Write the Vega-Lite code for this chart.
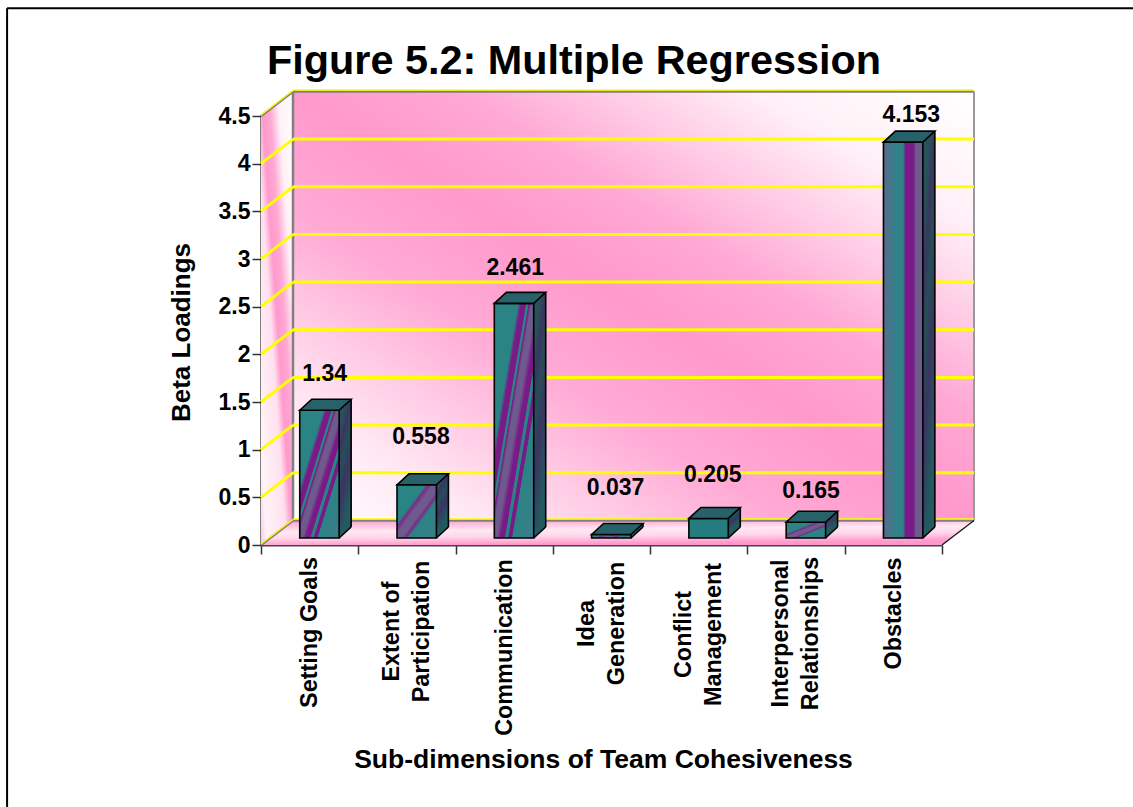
{"$schema":"https://vega.github.io/schema/vega-lite/v6.json","width":681,"height":429,"autosize":{"type":"none"},"padding":{"left":261,"top":116,"right":191,"bottom":262},"background":"white","view":{"stroke":null},
"title":{"text":"Figure 5.2: Multiple Regression","anchor":"start","frame":"group","dx":6,"offset":-75,"font":"Liberation Sans","fontWeight":"bold","fontSize":41.4,"color":"#000"},
"datasets":{"bars":[{"category":"Setting Goals","value":1.34},{"category":"Extent of Participation","value":0.558},{"category":"Communication","value":2.461},{"category":"Idea Generation","value":0.037},{"category":"Conflict Management","value":0.205},{"category":"Interpersonal Relationships","value":0.165},{"category":"Obstacles","value":4.153}],
"ticks":[{"v":0.5},{"v":1},{"v":1.5},{"v":2},{"v":2.5},{"v":3},{"v":3.5},{"v":4}],"edges":[{"v":0},{"v":4.5}],
"floor":[{"x":0,"a":0,"b":0},{"x":0.329,"a":0,"b":0.258},{"x":7,"a":0,"b":0.258},{"x":7.329,"a":0.258,"b":0.258}],
"side":[{"x":0,"a":0,"b":4.5},{"x":0.329,"a":0.258,"b":4.758}],
"one":[{"n":1}]},
"resolve":{"scale":{"x":"independent"},"axis":{"x":"independent","y":"independent"}},
"layer":[
{"resolve":{"axis":{"x":"independent","y":"independent"}},"layer":[
{"data":{"name":"one"},"mark":{"type":"rect","xOffset":32,"x2Offset":32,"yOffset":-24.6,"y2Offset":-24.6,"color":{"gradient":"linear","x1":0,"y1":1,"x2":1,"y2":0,"stops":[{"offset":0,"color":"#ffffff"},{"offset":0.14,"color":"#ffe8f3"},{"offset":0.36,"color":"#ffaad5"},{"offset":0.5,"color":"#ff99cc"},{"offset":0.62,"color":"#ffa8d4"},{"offset":0.84,"color":"#fff0f7"},{"offset":1,"color":"#ffffff"}]}},
"encoding":{"x":{"datum":0,"type":"quantitative","scale":{"domain":[0,7],"nice":false,"zero":false},"axis":null},"x2":{"datum":7},"y":{"datum":0,"type":"quantitative","scale":{"domain":[0,4.5],"nice":false},"axis":null},"y2":{"datum":4.5}}},
{"data":{"name":"side"},"mark":{"type":"area","color":{"gradient":"linear","x1":0,"y1":1,"x2":1,"y2":0,"stops":[{"offset":0,"color":"#ffc4e2"},{"offset":0.1,"color":"#fff4f9"},{"offset":0.4,"color":"#ffe0ef"},{"offset":0.5,"color":"#ff99cc"},{"offset":0.62,"color":"#ffa8d4"},{"offset":0.76,"color":"#fff0f7"},{"offset":1,"color":"#ffffff"}]}},"encoding":{"x":{"field":"x","type":"quantitative","axis":null},"y":{"field":"a","type":"quantitative","axis":null},"y2":{"field":"b"}}},
{"data":{"name":"floor"},"mark":{"type":"area","color":{"gradient":"linear","x1":0,"y1":0,"x2":0.25,"y2":1,"stops":[{"offset":0,"color":"#ff99cc"},{"offset":0.45,"color":"#ffe8f3"},{"offset":0.7,"color":"#ffd6ea"},{"offset":1,"color":"#ff99cc"}]}},"encoding":{"x":{"field":"x","type":"quantitative","axis":null},"y":{"field":"a","type":"quantitative","axis":null},"y2":{"field":"b"}}},
{"data":{"name":"edges"},"mark":{"type":"rule","color":"#808080","strokeWidth":2.5,"yOffset":-24.6,"xOffset":32,"x2Offset":32},"encoding":{"x":{"datum":0,"type":"quantitative","axis":null},"x2":{"datum":7},"y":{"field":"v","type":"quantitative","axis":null}}},
{"data":{"name":"edges"},"mark":{"type":"rule","color":"#808080","strokeWidth":2.5,"yOffset":-24.6,"y2Offset":-24.6,"xOffset":32},"transform":[{"filter":"datum.v==0"}],"encoding":{"x":{"datum":0,"type":"quantitative","axis":null},"y":{"field":"v","type":"quantitative","axis":null},"y2":{"datum":4.5}}},
{"data":{"name":"edges"},"mark":{"type":"rule","color":"#999999","strokeWidth":2,"yOffset":-24.6,"y2Offset":-24.6,"xOffset":32},"transform":[{"filter":"datum.v==0"}],"encoding":{"x":{"datum":7,"type":"quantitative","axis":null},"y":{"field":"v","type":"quantitative","axis":null},"y2":{"datum":4.5}}},
{"data":{"name":"ticks"},"mark":{"type":"rule","color":"#ffff00","strokeWidth":3,"yOffset":-24.6,"xOffset":32,"x2Offset":32},"encoding":{"x":{"datum":0,"type":"quantitative","axis":null},"x2":{"datum":7},"y":{"field":"v","type":"quantitative","axis":null}}},
{"data":{"name":"ticks"},"mark":{"type":"rule","color":"#ffff00","strokeWidth":3,"y2Offset":-24.6,"x2Offset":32},"encoding":{"x":{"datum":0,"type":"quantitative","axis":null},"x2":{"datum":0},"y":{"field":"v","type":"quantitative","axis":null},"y2":{"field":"v"}}},
{"data":{"name":"edges"},"mark":{"type":"rule","color":"#808080","strokeWidth":2.5,"y2Offset":-24.6,"x2Offset":32},"encoding":{"x":{"datum":0,"type":"quantitative","axis":null},"x2":{"datum":0},"y":{"field":"v","type":"quantitative","axis":null},"y2":{"field":"v"}}},
{"data":{"name":"edges"},"mark":{"type":"rule","color":"#ffff00","strokeWidth":1.2,"yOffset":-1,"y2Offset":-25.6,"x2Offset":32},"encoding":{"x":{"datum":0,"type":"quantitative","axis":null},"x2":{"datum":0},"y":{"field":"v","type":"quantitative","axis":null},"y2":{"field":"v"}}},
{"data":{"name":"edges"},"mark":{"type":"rule","color":"#ffff00","strokeWidth":1.5,"yOffset":-26,"xOffset":32,"x2Offset":32},"encoding":{"x":{"datum":0,"type":"quantitative","axis":null},"x2":{"datum":7},"y":{"field":"v","type":"quantitative","axis":null}}},
{"data":{"name":"edges"},"transform":[{"filter":"datum.v==0"}],"mark":{"type":"rule","color":"#111111","strokeWidth":1.2,"y2Offset":-24.6,"x2Offset":32},"encoding":{"x":{"datum":7,"type":"quantitative","axis":null},"x2":{"datum":7},"y":{"field":"v","type":"quantitative","axis":null},"y2":{"field":"v"}}},
{"data":{"name":"one"},"mark":{"type":"rule","color":"#000000","strokeWidth":2},"encoding":{"x":{"datum":-2.61,"type":"quantitative","axis":null},"x2":{"datum":9},"y":{"datum":5.63,"type":"quantitative","axis":null}}},
{"data":{"name":"one"},"mark":{"type":"rule","color":"#000000","strokeWidth":2},"encoding":{"x":{"datum":-2.61,"type":"quantitative","axis":null},"y":{"datum":5.63,"type":"quantitative","axis":null},"y2":{"datum":-3}}}
]},
{"data":{"name":"bars"},"resolve":{"axis":{"x":"independent","y":"independent"}},"layer":[
{"mark":{"type":"bar","width":12,"xOffset":35.5,"yOffset":-18,"y2Offset":-18,"color":{"gradient":"linear","x1":0,"y1":0,"x2":0.4,"y2":1,"stops":[{"offset":0,"color":"#225a60"},{"offset":0.22,"color":"#2a4f5a"},{"offset":0.35,"color":"#3a3560"},{"offset":0.5,"color":"#244f58"},{"offset":0.7,"color":"#3a3560"},{"offset":1,"color":"#225a60"}]}},"encoding":{"x":{"field":"category","type":"nominal","sort":null,"scale":{"domain":["Setting Goals","Extent of Participation","Communication","Idea Generation","Conflict Management","Interpersonal Relationships","Obstacles"],"paddingInner":0,"paddingOuter":0},"axis":{"title":"Sub-dimensions of Team Cohesiveness","titleFont":"Liberation Sans","titleFontWeight":"bold","titleFontSize":26.5,"titleColor":"#000","titleX":342,"titleY":214,"titleAlign":"center","titleBaseline":"middle","labelFont":"Liberation Sans","labelFontWeight":"bold","labelFontSize":23.4,"labelColor":"#000","labelAngle":-90,"labelAlign":"center","labelBaseline":"middle","labelLimit":400,"labelPadding":{"condition":[{"test":"datum.label=='Setting Goals'","value":78},{"test":"datum.label=='Extent of Participation'","value":77},{"test":"datum.label=='Communication'","value":93},{"test":"datum.label=='Idea Generation'","value":69},{"test":"datum.label=='Conflict Management'","value":80},{"test":"datum.label=='Interpersonal Relationships'","value":79}],"value":59},"labelOverlap":false,"labelLineHeight":30,"labelOffset":{"condition":{"test":"indexof(datum.label,' ')>0&&datum.label!='Setting Goals'","value":-15.5},"value":0},"tickBand":"extent","tickSize":9,"tickColor":"#333","tickWidth":1.5,"domainColor":"#444","domainWidth":2,"labelExpr":"datum.label=='Extent of Participation'?['Extent of','Participation']:datum.label=='Idea Generation'?['Idea','Generation']:datum.label=='Conflict Management'?['Conflict','Management']:datum.label=='Interpersonal Relationships'?['Interpersonal','Relationships']:datum.label"}},"y":{"field":"value","type":"quantitative","axis":{"values":[0,0.5,1,1.5,2,2.5,3,3.5,4,4.5],"format":"~g","title":"Beta Loadings","titleFont":"Liberation Sans","titleFontWeight":"bold","titleFontSize":26,"titleColor":"#000","titleX":-80,"titleY":216,"titleAngle":-90,"titleAlign":"center","titleBaseline":"middle","labelFont":"Liberation Sans","labelFontWeight":"bold","labelFontSize":23,"labelColor":"#000","labelPadding":2,"tickSize":9,"tickColor":"#333","tickWidth":1.5,"domainColor":"#000","domainWidth":2,"grid":false}}}},
{"mark":{"type":"point","filled":true,"size":4,"shape":"M19.7,-7 L31.7,-18 L19.7,-18 Z","color":"#225a60","opacity":1,"xOffset":9.8},"encoding":{"x":{"field":"category","type":"nominal","axis":null},"y":{"datum":0,"type":"quantitative","axis":null}}},
{"mark":{"type":"point","filled":false,"size":4,"shape":"M19.7,-7 L31.7,-18","color":"#000","strokeWidth":1.6,"opacity":1,"xOffset":9.8},"encoding":{"x":{"field":"category","type":"nominal","axis":null},"y":{"datum":0,"type":"quantitative","axis":null}}},
{"mark":{"type":"rule","color":"#000","strokeWidth":1.6,"xOffset":41.5,"yOffset":-18,"y2Offset":-18},"encoding":{"x":{"field":"category","type":"nominal","axis":null,"bandPosition":0.5},"y":{"field":"value","type":"quantitative","axis":null},"y2":{"datum":0}}},
{"transform":[{"filter":"datum.category=='Setting Goals'||datum.category=='Communication'"}],"mark":{"type":"bar","width":39.4,"xOffset":9.8,"yOffset":-7,"y2Offset":-7,"stroke":"#000","strokeWidth":1.6,"color":{"gradient":"linear","x1":0,"y1":0,"x2":1,"y2":1,"stops":[{"offset":0,"color":"#2a8484"},{"offset":0.3,"color":"#2a8484"},{"offset":0.34,"color":"#7a1a88"},{"offset":0.4,"color":"#7a1a88"},{"offset":0.41,"color":"#2a8484"},{"offset":0.43,"color":"#2a8484"},{"offset":0.44,"color":"#7a1a88"},{"offset":0.47,"color":"#6e5a8c"},{"offset":0.53,"color":"#6e5a8c"},{"offset":0.58,"color":"#7a1a88"},{"offset":0.63,"color":"#7a1a88"},{"offset":0.64,"color":"#2a8484"},{"offset":0.67,"color":"#2a8484"},{"offset":0.68,"color":"#7a1a88"},{"offset":0.72,"color":"#7a1a88"},{"offset":0.73,"color":"#2a8484"},{"offset":1,"color":"#3f7a8a"}]}},"encoding":{"x":{"field":"category","type":"nominal","axis":null},"y":{"field":"value","type":"quantitative","axis":null}}},
{"transform":[{"filter":"datum.category=='Extent of Participation'||datum.category=='Idea Generation'||datum.category=='Interpersonal Relationships'"}],"mark":{"type":"bar","width":39.4,"xOffset":9.8,"yOffset":-7,"y2Offset":-7,"stroke":"#000","strokeWidth":1.6,"color":{"gradient":"linear","x1":0,"y1":0,"x2":1,"y2":1,"stops":[{"offset":0,"color":"#2a8484"},{"offset":0.36,"color":"#2a8484"},{"offset":0.4,"color":"#7a2a88"},{"offset":0.46,"color":"#6e5a8c"},{"offset":0.56,"color":"#6e5a8c"},{"offset":0.6,"color":"#7a2a88"},{"offset":0.65,"color":"#2a8484"},{"offset":1,"color":"#3f7a8a"}]}},"encoding":{"x":{"field":"category","type":"nominal","axis":null},"y":{"field":"value","type":"quantitative","axis":null}}},
{"transform":[{"filter":"datum.category=='Conflict Management'"}],"mark":{"type":"bar","width":39.4,"xOffset":9.8,"yOffset":-7,"y2Offset":-7,"stroke":"#000","strokeWidth":1.6,"color":"#247c7e"},"encoding":{"x":{"field":"category","type":"nominal","axis":null},"y":{"field":"value","type":"quantitative","axis":null}}},
{"transform":[{"filter":"datum.category=='Obstacles'"}],"mark":{"type":"bar","width":39.4,"xOffset":9.8,"yOffset":-7,"y2Offset":-7,"stroke":"#000","strokeWidth":1.6,"color":{"gradient":"linear","x1":0,"y1":0,"x2":1,"y2":0,"stops":[{"offset":0,"color":"#5a6a8c"},{"offset":0.3,"color":"#357f8a"},{"offset":0.5,"color":"#2a8484"},{"offset":0.56,"color":"#7a1a88"},{"offset":0.76,"color":"#7a1a88"},{"offset":0.82,"color":"#6e5a8c"},{"offset":1,"color":"#6e5a8c"}]}},"encoding":{"x":{"field":"category","type":"nominal","axis":null},"y":{"field":"value","type":"quantitative","axis":null}}},
{"mark":{"type":"point","filled":true,"size":4,"shape":"M-19.7,-7 L-7.7,-18 L31.7,-18 L19.7,-7 Z","color":"#27626a","stroke":"#000","strokeWidth":1.6,"opacity":1,"xOffset":9.8},"encoding":{"x":{"field":"category","type":"nominal","axis":null},"y":{"field":"value","type":"quantitative","axis":null}}},
{"mark":{"type":"text","font":"Liberation Sans","fontWeight":"bold","fontSize":23,"color":"#000","align":"center","baseline":"middle","dx":{"expr":"{'Setting Goals':15,'Extent of Participation':14,'Communication':11,'Idea Generation':14,'Conflict Management':14,'Interpersonal Relationships':15,'Obstacles':18}[datum.category]"},"dy":{"expr":"{'Setting Goals':-43,'Extent of Participation':-55,'Communication':-42,'Idea Generation':-53,'Conflict Management':-50,'Interpersonal Relationships':-38,'Obstacles':-34}[datum.category]"}},"encoding":{"x":{"field":"category","type":"nominal","axis":null},"y":{"field":"value","type":"quantitative","axis":null},"text":{"field":"value","type":"quantitative","format":"~g"}}}
]}
]}
